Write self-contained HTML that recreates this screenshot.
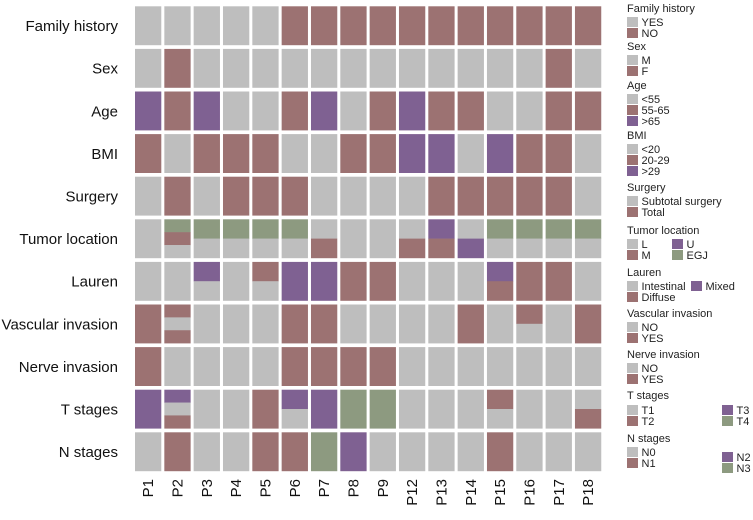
<!DOCTYPE html>
<html><head><meta charset="utf-8"><style>
body{margin:0;background:#fff;font-family:"Liberation Sans",Arial,sans-serif}
svg text{font-family:"Liberation Sans",Arial,sans-serif}
</style></head><body>
<svg id="c" width="753" height="515" viewBox="0 0 753 515"></svg>
<script>
const patients=["P1","P2","P3","P4","P5","P6","P7","P8","P9","P12","P13","P14","P15","P16","P17","P18"];
const features=["Family history","Sex","Age","BMI","Surgery","Tumor location","Lauren","Vascular invasion","Nerve invasion","T stages","N stages"];
// codes: 0 gray, 1 rose, 2 purple, 3 green; "a/b" = stacked segments top to bottom
const familyHistory=["0","0","0","0","0","1","1","1","1","1","1","1","1","1","1","1"];
const sex=["0","1","0","0","0","0","0","0","0","0","0","0","0","0","1","0"];
const age=["2","1","2","0","0","1","2","0","1","2","1","1","0","0","1","1"];
const bmi=["1","0","1","1","1","0","0","1","1","2","2","0","2","1","1","0"];
const surgery=["0","1","0","1","1","1","0","0","0","0","1","1","1","1","1","0"];
const tumorLocation=["0","3/1/0","3/0","3/0","3/0","3/0","0/1","0","0","0/1","2/1","0/2","3/0","3/0","3/0","3/0"];
const lauren=["0","0","2/0","0","1/0","2","2","1","1","0","0","0","2/1","1","1","0"];
const vascular=["1","1/0/1","0","0","0","1","1","0","0","0","0","1","0","1/0","0","1"];
const nerve=["1","0","0","0","0","1","1","1","1","0","0","0","0","0","0","0"];
const tStages=["2","2/0/1","0","0","1","2/0","2","3","3","0","0","0","1/0","0","0","0/1"];
const nStages=["0","1","0","0","1","1","3","2","0","0","0","0","1","0","0","0"];
const rowsData=[familyHistory,sex,age,bmi,surgery,tumorLocation,lauren,vascular,nerve,tStages,nStages];
const palette=["#bebebe","#9c7272","#7f6192","#8d9a80"];
const NS="http://www.w3.org/2000/svg";
const svg=document.getElementById('c');
const x0=135,colPitch=29.33,cellW=26.3,y0=6.3,rowPitch=42.6,cellH=38.6;
const xPos=i=>x0+i*colPitch, yPos=j=>y0+j*rowPitch;
function mk(t,a){const e=document.createElementNS(NS,t);for(const k in a)e.setAttribute(k,a[k]);svg.appendChild(e);return e;}
rowsData.forEach((row,j)=>{
  const lab=mk('text',{x:118,y:yPos(j)+cellH/2+5.5,'text-anchor':'end','font-size':15,fill:'#111'});
  lab.textContent=features[j];
  
  
  row.forEach((v,i)=>{
    const segs=v.split('/');
    const h=cellH/segs.length;
    segs.forEach((s,k)=>{
      const r=mk('rect',{x:xPos(i),y:yPos(j)+k*h,width:cellW,height:h+0.3,fill:palette[+s]});
      
      
    });
  });
});
patients.forEach((p,i)=>{
  const cx=xPos(i)+cellW/2+5, cy=479;
  const t=mk('text',{x:cx,y:cy,'text-anchor':'end','font-size':15,fill:'#111',transform:`rotate(-90 ${cx} ${cy})`});
  t.textContent=p;
  
  
});
const legend=[
 ["Family history",12,[[627,17,0,"YES"],[627,28,1,"NO"]]],
 ["Sex",50,[[627,55,0,"M"],[627,66,1,"F"]]],
 ["Age",89,[[627,94,0,"<55"],[627,105,1,"55-65"],[627,116,2,">65"]]],
 ["BMI",139,[[627,144,0,"<20"],[627,155,1,"20-29"],[627,166,2,">29"]]],
 ["Surgery",191,[[627,196,0,"Subtotal surgery"],[627,207,1,"Total"]]],
 ["Tumor location",234,[[627,239,0,"L"],[627,250,1,"M"],[672,239,2,"U"],[672,250,3,"EGJ"]]],
 ["Lauren",276,[[627,281,0,"Intestinal"],[627,292,1,"Diffuse"],[691,281,2,"Mixed"]]],
 ["Vascular invasion",317,[[627,322,0,"NO"],[627,333,1,"YES"]]],
 ["Nerve invasion",358,[[627,363,0,"NO"],[627,374,1,"YES"]]],
 ["T stages",399,[[627,405,0,"T1"],[627,416,1,"T2"],[722,405,2,"T3"],[722,416,3,"T4"]]],
 ["N stages",442,[[627,447,0,"N0"],[627,458,1,"N1"],[722,452,2,"N2"],[722,463,3,"N3"]]]
];
legend.forEach(([title,ty,items])=>{
  const t=mk('text',{x:627,y:ty,'font-size':11,fill:'#222'});
  t.textContent=title;
  
  
  items.forEach(([lx,ly,c,lab])=>{
    const r=mk('rect',{x:lx,y:ly,width:11,height:10,fill:palette[c]});
    
    
    const tx=mk('text',{x:lx+14.5,y:ly+9,'font-size':11,fill:'#222'});
    tx.textContent=lab;
    
    
  });
});
</script>
</body></html>
